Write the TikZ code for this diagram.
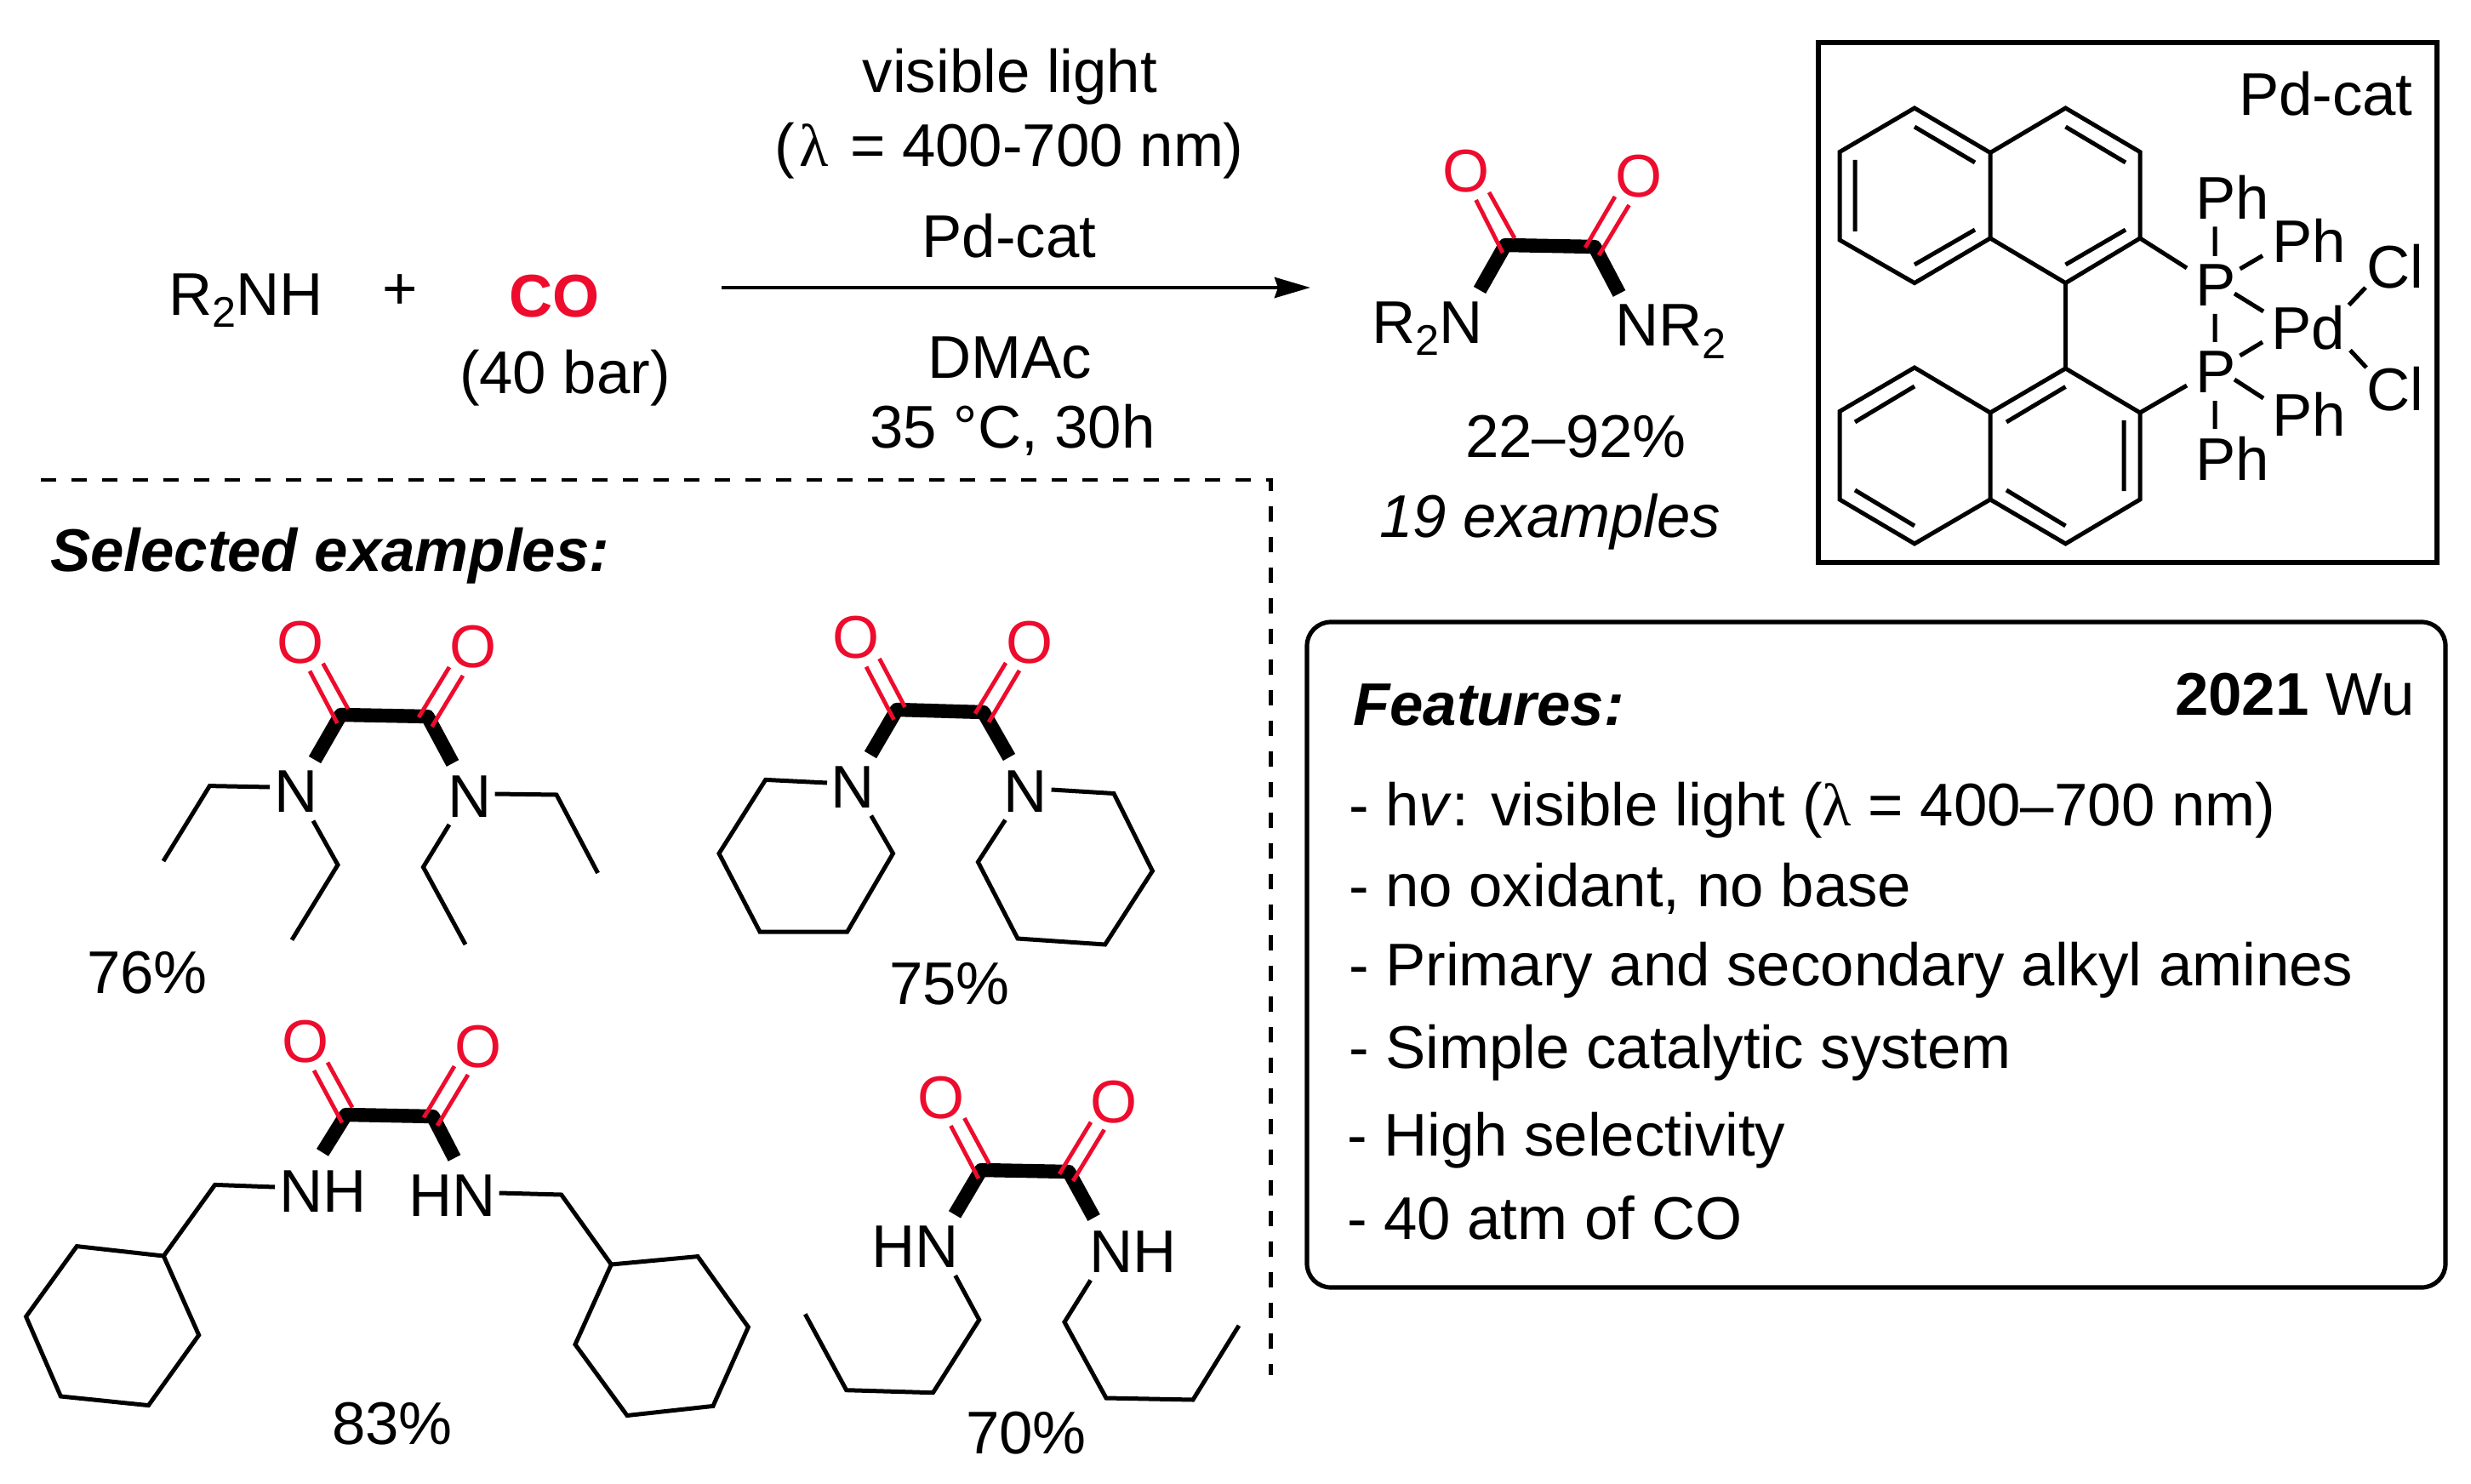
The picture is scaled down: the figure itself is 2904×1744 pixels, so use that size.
\documentclass[tikz,border=0pt]{standalone}
\usepackage{fontspec}
\setmainfont{Liberation Sans}
\newfontfamily\lamfont{Liberation Serif}
\usetikzlibrary{arrows.meta}
\definecolor{oxred}{RGB}{237,12,45}
\newcommand\chemfont{\fontsize{17.7}{21}\selectfont}
\newcommand\subtwo{\raisebox{-0.2em}{\fontsize{12.6}{15}\selectfont 2}}
\newcommand\lam{{\lamfont λ}}
\tikzset{
 x=0.25pt,y=-0.25pt,
 lbl/.style={inner sep=0pt,outer sep=0pt,anchor=base west,font=\chemfont},
 ctr/.style={lbl,anchor=base},
 oxy/.style={ctr,text=oxred},
 thinbond/.style={draw=black,line width=1.25pt,line join=miter},
 boldbond/.style={draw=black,line width=4.1pt,line join=round},
 redbond/.style={draw=oxred,line width=1.2pt},
 frameline/.style={draw=black,line width=1.3pt},
 dashline/.style={draw=black,line width=1.1pt,dash pattern=on 4.5pt off 4.5pt},
}
\begin{document}
\begin{tikzpicture}
\useasboundingbox (0,0) rectangle (2904,1744);
% reaction line
\node[lbl] (amine) at (198,370) {R\subtwo NH};
\node[ctr] (plus) at (470,364) {+};
\node[lbl,font=\chemfont\bfseries,text=oxred] (co) at (598,372) {CO};
\node[lbl] (bar) at (540,462) {(40 bar)};
\node[ctr] (c1) at (1187,109) {visible light};
\node[ctr] (c2) at (1186,196) {(\kern0.08em\lam\kern0.08em{} = 400-700 nm)};
\node[ctr] (c3) at (1186,303) {Pd-cat};
\node[ctr] (c4) at (1187,444) {DMAc};
\node[ctr] (c5) at (1190,527) {35 °C, 30h};
\coordinate (arrA) at (848,338);
\coordinate (arrB) at (1540,338);
\draw[draw=black,line width=1.2pt,-{Stealth[length=10.5pt,width=6pt,inset=1pt]}] (arrA) -- (arrB);
% dashed frame
\coordinate (dA) at (48,564);
\coordinate (dB) at (1493.5,564);
\coordinate (dC) at (1493.5,1616);
\draw[dashline] (dA) -- (dB) -- (dC);
% product
\draw[boldbond] (1739,341) -- (1769,288) -- (1874,290) -- (1903,345);
\draw[redbond] (1734.6,235) -- (1766,297) (1750,226) -- (1780,280) (1898,231) -- (1863,291) (1914.5,241) -- (1879,300);
\node[oxy] (pO1) at (1723,226) {O};
\node[oxy] (pO2) at (1926,232) {O};
\node[lbl] (pN1) at (1612,403) {R\subtwo N};
\node[lbl] (pN2) at (1898,407) {NR\subtwo};
\node[lbl] (yield) at (1722,537) {22–92\%};
\node[lbl,font=\chemfont\itshape] (exs) at (1621,631) {19 examples};
% catalyst box
\draw[frameline] (2137,50) rectangle (2864,661);
\node[lbl] (catT) at (2631,136) {Pd-cat};
\draw[thinbond] (2250,127) -- (2339,179.5) -- (2339,280) -- (2250,332.6) -- (2162,282) -- (2162,178.6) -- cycle;
\draw[thinbond] (2339,179.5) -- (2427.5,127) -- (2515,178.6) -- (2515,280) -- (2427.5,332.6) -- (2339,280);
\draw[thinbond] (2180,188) -- (2180,272) (2250,149) -- (2321,191) (2321,270) -- (2250,311) (2427.5,149) -- (2498,191) (2498,270) -- (2427.5,311);
\draw[thinbond] (2515,280) -- (2570,315);
\draw[thinbond] (2427.5,332.6) -- (2427.5,433);
\draw[thinbond] (2250,432) -- (2339,485) -- (2339,587) -- (2250,639) -- (2162,587) -- (2162,483.5) -- cycle;
\draw[thinbond] (2339,485) -- (2427.5,433) -- (2515,485) -- (2515,587) -- (2427.5,639) -- (2339,587);
\draw[thinbond] (2427.5,454.5) -- (2358,496) (2250,454) -- (2180,496) (2180,576) -- (2250,618) (2358,576) -- (2427.5,618) (2496,494) -- (2496,577);
\draw[thinbond] (2515,485) -- (2570,453);
\draw[thinbond] (2603,266.5) -- (2603,301) (2632.5,316) -- (2659,300.5) (2626,345) -- (2660,366) (2603,369) -- (2603,402) (2632.5,418) -- (2659,402) (2626,446) -- (2660,468) (2603,471) -- (2603,504) (2760.5,358.5) -- (2780,338) (2762,411.6) -- (2781,432);
\node[lbl] (ph1) at (2580,258) {Ph};
\node[lbl] (ph2) at (2670,309) {Ph};
\node[lbl] (cl1) at (2781,339) {Cl};
\node[lbl] (p1) at (2580,359) {P};
\node[lbl] (pd) at (2669,411) {Pd};
\node[lbl] (p2) at (2580,461) {P};
\node[lbl] (ph3) at (2670,512.5) {Ph};
\node[lbl] (cl2) at (2781,483) {Cl};
\node[lbl] (ph4) at (2580,564) {Ph};
% selected examples
\node[lbl,font=\chemfont\bfseries\itshape] (sel) at (59,671) {Selected examples:};
% molecule 1
\draw[boldbond] (370,893) -- (400.5,840) -- (502.5,842) -- (532,897);
\draw[redbond] (364,788.6) -- (396.4,850) (379.6,779.6) -- (409,833) (528,784) -- (492,843) (544,794) -- (507.6,854);
\node[oxy] (m1O1) at (352.6,779) {O};
\node[oxy] (m1O2) at (556,784) {O};
\node[ctr] (m1N1) at (348.5,954.6) {N};
\node[ctr] (m1N2) at (552,960) {N};
\draw[thinbond] (317,925) -- (246.4,923.6) -- (192,1012);
\draw[thinbond] (368,964.6) -- (397,1016.4) -- (343,1104.6);
\draw[thinbond] (581.6,933) -- (654,934) -- (702.6,1026);
\draw[thinbond] (528,969) -- (497.4,1019) -- (547,1110);
\node[lbl] (m1y) at (102,1167) {76\%};
% molecule 2
\draw[boldbond] (1023,887) -- (1054,834) -- (1155.7,837) -- (1186,890);
\draw[redbond] (1018,783.6) -- (1050.5,845.7) (1033.5,774) -- (1063.6,831) (1182,779) -- (1146,838.6) (1198,788) -- (1162,848.6);
\node[oxy] (m2O1) at (1006.4,773.6) {O};
\node[oxy] (m2O2) at (1210,779) {O};
\node[ctr] (m2N1) at (1002.5,949) {N};
\node[ctr] (m2N2) at (1205,954.6) {N};
\draw[thinbond] (972,920) -- (899.7,916.4) -- (845,1003) -- (893,1095) -- (995.7,1095) -- (1049.5,1003) -- (1023.8,958.6);
\draw[thinbond] (1235.6,928) -- (1309,932.5) -- (1354.4,1023.6) -- (1298.7,1110) -- (1196,1103) -- (1149.4,1013) -- (1181.4,963.6);
\node[lbl] (m2y) at (1045,1180.5) {75\%};
% molecule 3
\draw[boldbond] (379,1354.4) -- (406.6,1310) -- (508.7,1312) -- (534,1361);
\draw[redbond] (369,1258) -- (402,1319.4) (385,1248.6) -- (414,1301.5) (534,1253) -- (498,1313.4) (550,1263) -- (514,1322.8);
\node[oxy] (m3O1) at (358.7,1248) {O};
\node[oxy] (m3O2) at (561.7,1254) {O};
\node[lbl] (m3N1) at (328,1424.8) {NH};
\node[lbl] (m3N2) at (480,1429) {HN};
\draw[thinbond] (323,1395) -- (252.6,1392.4) -- (192.3,1476);
\draw[thinbond] (192.3,1476) -- (90.3,1464.6) -- (30.6,1547.3) -- (71.4,1641) -- (174.5,1651.6) -- (233.7,1569) -- cycle;
\draw[thinbond] (586.7,1402) -- (659.7,1404) -- (718.4,1486);
\draw[thinbond] (718.4,1486) -- (820,1476.6) -- (879.4,1559.6) -- (838,1652.4) -- (737,1663.5) -- (676,1580) -- cycle;
\node[lbl] (m3y) at (390,1697) {83\%};
% molecule 4
\draw[boldbond] (1122,1427.4) -- (1153,1375) -- (1256,1377) -- (1285.6,1431);
\draw[redbond] (1117.4,1323) -- (1150,1385) (1133.4,1314) -- (1162.4,1367.5) (1282,1318.7) -- (1245,1379.7) (1297.7,1327.6) -- (1261,1388);
\node[oxy] (m4O1) at (1106,1314) {O};
\node[oxy] (m4O2) at (1309,1319.4) {O};
\node[lbl] (m4N1) at (1024,1489.6) {HN};
\node[lbl] (m4N2) at (1280,1495) {NH};
\draw[thinbond] (1122.7,1499) -- (1150.8,1551) -- (1096.5,1636.7) -- (994.7,1633.7) -- (946.3,1544.4);
\draw[thinbond] (1281.7,1504.5) -- (1251,1553.7) -- (1300,1643) -- (1402,1645) -- (1456,1557.8);
\node[lbl] (m4y) at (1135,1708) {70\%};
% features box
\draw[frameline,rounded corners=7pt] (1536,731) rectangle (2874,1513);
\node[lbl,font=\chemfont\bfseries\itshape] (feat) at (1590,852) {Features:};
\node[lbl] (wu) at (2556,840) {\textbf{2021} Wu};
\node[lbl] (f1) at (1585,970) {- h\textit{v}: visible light (\lam{} = 400–700 nm)};
\node[lbl] (f2) at (1585,1065) {- no oxidant, no base};
\node[lbl] (f3) at (1585,1158) {- Primary and secondary alkyl amines};
\node[lbl] (f4) at (1585,1255.7) {- Simple catalytic system};
\node[lbl] (f5) at (1583,1358) {- High selectivity};
\node[lbl] (f6) at (1583,1456) {- 40 atm of CO};
\end{tikzpicture}
\end{document}
